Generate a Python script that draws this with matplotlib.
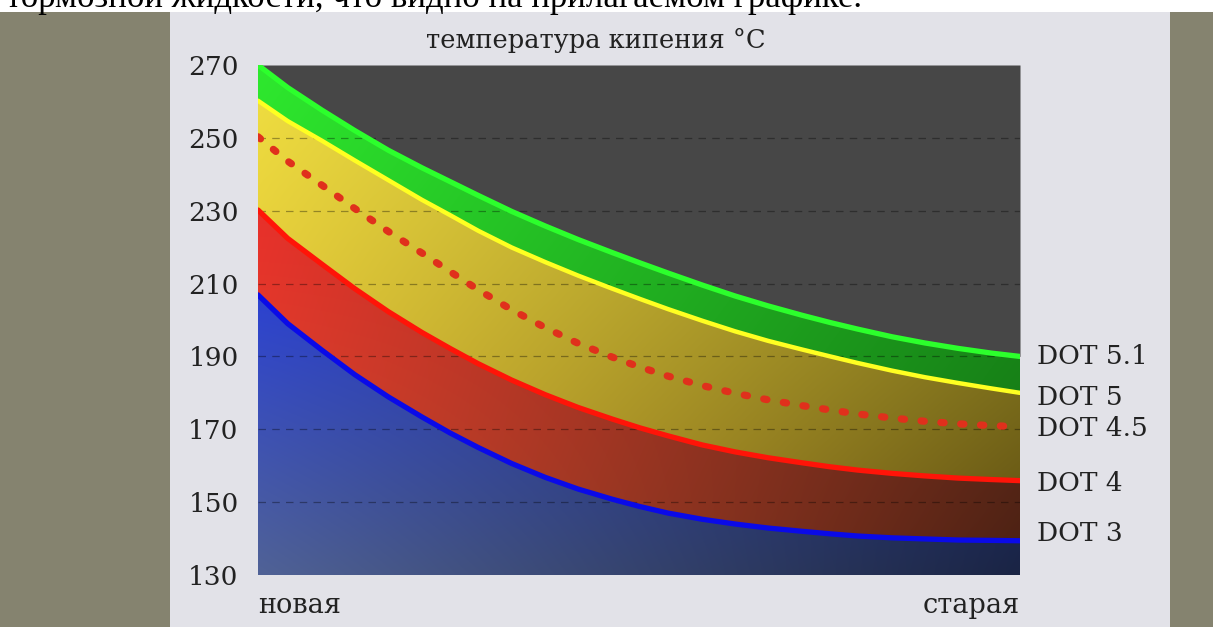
import numpy as np
import matplotlib.pyplot as plt
import matplotlib.colors as mcolors
from matplotlib.patches import Rectangle

# срок службы жидкости: 0 - новая, 1 - старая
age = [0, 0.039, 0.084, 0.127, 0.171, 0.215, 0.252, 0.289, 0.333, 0.377, 0.420, 0.465,
       0.501, 0.538, 0.583, 0.626, 0.669, 0.714, 0.751, 0.787, 0.832, 0.875, 0.919,
       0.963, 1.0]

# температура кипения, °C
dot51 = [270, 263.8, 257.6, 252, 246.6, 241.8, 238.0, 234.2, 229.8, 225.8, 222.1, 218.5,
         215.7, 212.9, 209.6, 206.6, 203.9, 201.3, 199.3, 197.5, 195.4, 193.7, 192.2,
         190.9, 190]
dot5 = [260.2, 254.6, 249.2, 243.8, 238.4, 233.0, 228.8, 224.5, 219.9, 215.9, 212.2,
        208.6, 205.8, 203.0, 199.8, 196.9, 194.3, 191.9, 190.0, 188.2, 186.1, 184.3,
        182.7, 181.2, 180]
dot45 = [250.3, 243.6, 237.0, 230.6, 224.3, 218.4, 213.3, 208.3, 202.8, 197.9, 193.6,
         189.8, 187.1, 184.6, 182.0, 179.9, 178.1, 176.5, 175.3, 174.2, 173.1, 172.2,
         171.5, 171.0, 170.7]
dot4 = [230.2, 222.4, 215.3, 208.6, 202.3, 196.6, 192.2, 188.0, 183.5, 179.5, 176.0,
        172.8, 170.4, 168.2, 165.7, 163.8, 162.2, 160.8, 159.7, 158.8, 157.9, 157.2,
        156.6, 156.2, 155.9]
dot3 = [206.9, 199.0, 191.7, 185.0, 178.9, 173.4, 169.0, 165.0, 160.6, 156.8, 153.6,
        150.8, 148.8, 147.0, 145.3, 144.0, 142.9, 142.0, 141.3, 140.7, 140.2, 139.9,
        139.6, 139.5, 139.4]

names = ['DOT 5.1', 'DOT 5', 'DOT 4.5', 'DOT 4', 'DOT 3']
yticks = [130, 150, 170, 190, 210, 230, 250, 270]

fig = plt.figure(figsize=(12.13, 6.27), dpi=100)
fig.patch.set_facecolor('white')

# фон страницы и светлая подложка графика
fig.add_artist(Rectangle((0, 0), 1, 1 - 12 / 627, transform=fig.transFigure,
                         facecolor='#85836f', edgecolor='none', zorder=-10))
fig.add_artist(Rectangle((170 / 1213, 0), 1000 / 1213, 1 - 12 / 627,
                         transform=fig.transFigure, facecolor='#e2e2e8',
                         edgecolor='none', zorder=-9))
fig.text(6 / 1213, 1 - 7 / 627, 'тормозной жидкости, что видно на прилагаемом графике.',
         fontfamily='Liberation Serif', fontsize=25, va='baseline', ha='left')

ax = fig.add_axes([258 / 1213, 1 - 575 / 627, 762 / 1213, 510 / 627])
ax.set_facecolor('none')
for s in ax.spines.values():
    s.set_visible(False)


def grad_fill(lo, hi, tl, tr, bl, br):
    band = ax.fill_between(age, lo, hi, color='none', lw=0)
    c = [np.array(mcolors.to_rgb(k)) for k in (tl, tr, bl, br)]
    u = np.linspace(0, 1, 256)[None, :, None]
    v = np.linspace(0, 1, 128)[:, None, None]
    img = (1 - v) * ((1 - u) * c[0] + u * c[1]) + v * ((1 - u) * c[2] + u * c[3])
    im = ax.imshow(img, extent=[0, 1, min(lo), max(hi)], origin='upper',
                   aspect='auto', zorder=1, interpolation='bilinear')
    im.set_clip_path(band.get_paths()[0], transform=ax.transData)


top = [270] * len(age)
bottom = [130] * len(age)
ax.fill_between(age, dot51, top, color='#474747', lw=0, zorder=1)
grad_fill(dot5, dot51, '#2ee82e', '#1c9c1c', '#28d028', '#178017')
grad_fill(dot4, dot5, '#eedc40', '#a29a2a', '#dcbc32', '#6c5c16')
grad_fill(dot3, dot4, '#e8302a', '#6e3220', '#d84a2e', '#4e2214')
grad_fill(bottom, dot3, '#2c42d0', '#1e3080', '#506296', '#1a2444')
ax.set_xlim(0, 1)
ax.set_ylim(130, 270)

# пунктирная сетка
for t in yticks[1:-1]:
    ax.axhline(t, color='black', alpha=0.35, lw=0.9, dashes=(6, 5), zorder=2)

ax.plot(age, dot51, color='#2cff2c', lw=3.8, solid_capstyle='round',
        solid_joinstyle='round', zorder=4)
ax.plot(age, dot5, color='#ffff22', lw=3.2, solid_capstyle='round',
        solid_joinstyle='round', zorder=4)
ax.plot(age, dot45, color='#e0301c', lw=5.2, dashes=(0.45, 2.3),
        dash_capstyle='round', zorder=4)
ax.plot(age, dot4, color='#ff1408', lw=3.8, solid_capstyle='round',
        solid_joinstyle='round', zorder=4)
ax.plot(age, dot3, color='#0a0ae8', lw=3.8, solid_capstyle='round',
        solid_joinstyle='round', zorder=4)

series = [dot51, dot5, dot45, dot4, dot3]
offsets = [0, -3, -1, -2, 5]
for name, vals, off in zip(names, series, offsets):
    ax.annotate(name, xy=(1, vals[-1]), xytext=(12, off), textcoords='offset points',
                va='center', ha='left', fontfamily='DejaVu Serif', fontsize=19,
                color='#222222', annotation_clip=False)

ax.set_xticks([])
ax.set_yticks(yticks)
ax.set_yticklabels([str(t) for t in yticks], fontfamily='DejaVu Serif', fontsize=19,
                   color='#222222')
ax.tick_params(axis='y', length=0, pad=14)

ax.text(0, -0.06, 'новая', transform=ax.transAxes, ha='left', va='center',
        fontfamily='DejaVu Serif', fontsize=19.5, color='#222222')
ax.text(1, -0.06, 'старая', transform=ax.transAxes, ha='right', va='center',
        fontfamily='DejaVu Serif', fontsize=19.5, color='#222222')
fig.text(596 / 1213, 1 - 40 / 627, 'температура кипения °C', ha='center', va='center',
         fontfamily='DejaVu Serif', fontsize=18.5, color='#222222')

fig.savefig('out.png', dpi=100)
